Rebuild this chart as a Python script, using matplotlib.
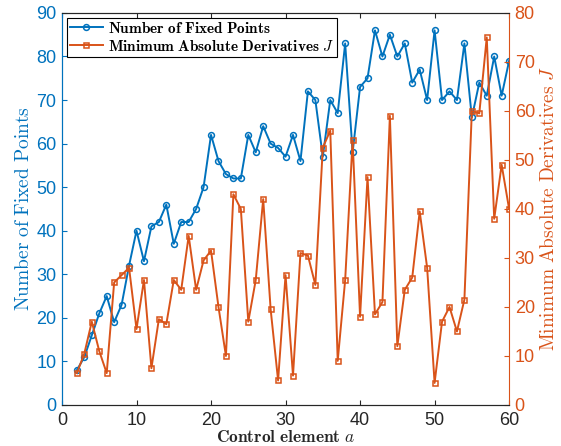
import numpy as np
from matplotlib import pyplot as plt

plt.rcParams['mathtext.fontset'] = 'cm'
plt.rcParams['font.family'] = ['Liberation Sans', 'DejaVu Sans']
plt.rcParams['font.size'] = 11

# control element values
a = list(range(2, 61))

fixed_points = [8, 11, 16, 21, 25, 19, 23, 32, 40, 33,
                41, 42, 46, 37, 42, 42, 45, 50, 62, 56,
                53, 52, 52, 62, 58, 64, 60, 59, 57, 62,
                56, 72, 70, 57, 70, 67, 83, 58, 73, 75,
                86, 80, 85, 80, 83, 74, 77, 70, 86, 70,
                72, 70, 83, 66, 74, 71, 80, 71, 79]

min_abs_deriv = [6.5, 10.5, 17, 11, 6.5, 25, 26.5, 28, 15.5, 25.5,
                 7.5, 17.5, 16.5, 25.5, 23.5, 34.5, 23.5, 29.5, 31.5, 20,
                 10, 43, 40, 17, 25.5, 42, 19.5, 5, 26.5, 6,
                 31, 30.5, 24.5, 52.5, 56, 9, 25.5, 54, 18, 46.5,
                 18.5, 21, 59, 12, 23.5, 26, 39.5, 28, 4.5, 17,
                 20, 15, 21.5, 60, 59.5, 75, 38, 49, 40]

blue = '#0072BD'
orange = '#D95319'

fig = plt.figure(figsize=(5.61, 4.46), dpi=100)
ax = fig.add_axes([0.1105, 0.092, 0.797, 0.879])
ax2 = ax.twinx()

l1, = ax.plot(a, fixed_points, '-o', color=blue, lw=1.4, ms=4.2, mfc='none', mew=1.1,
              label=r'$\mathbf{Number\ of\ Fixed\ Points}$')
l2, = ax2.plot(a, min_abs_deriv, '-s', color=orange, lw=1.4, ms=3.6, mfc='none', mew=1.1,
               label=r'$\mathbf{Minimum\ Absolute\ Derivatives}\ J$')

ax.set_xlim(0, 60)
ax.set_ylim(0, 90)
ax2.set_ylim(0, 80)
ax.set_xticks(range(0, 61, 10))
ax.set_yticks(range(0, 91, 10))
ax2.set_yticks(range(0, 81, 10))

ax.set_xlabel(r'$\mathbf{Control\ element}\ a$', fontsize=12.5, color='#262626', labelpad=0)
ax.set_ylabel(r'$\mathrm{Number\ of\ Fixed\ Points}$', fontsize=14, color=blue, labelpad=2)
ax2.set_ylabel(r'$\mathrm{Minimum\ Absolute\ Derivatives}\ J$', fontsize=14, color=orange, labelpad=4)

ax.tick_params(axis='y', colors=blue, direction='in', labelsize=13, pad=4)
ax.tick_params(axis='x', colors='#262626', direction='in', labelsize=13, top=True, pad=5)
ax2.tick_params(axis='y', colors=orange, direction='in', labelsize=13, pad=4)
ax.spines['left'].set_color(blue)
ax2.spines['left'].set_color(blue)
ax2.spines['right'].set_color(orange)
ax.spines['right'].set_visible(False)
for s in ['top', 'bottom']:
    ax.spines[s].set_color('#262626')
    ax2.spines[s].set_color('#262626')

leg = ax.legend(handles=[l1, l2], loc='upper left', fontsize=11, fancybox=False,
                edgecolor='black', framealpha=1, borderpad=0.2, handlelength=2.2,
                handletextpad=0.3, borderaxespad=0.3, labelspacing=0.2)
leg.get_frame().set_linewidth(0.8)

fig.savefig('out.png', dpi=100)
